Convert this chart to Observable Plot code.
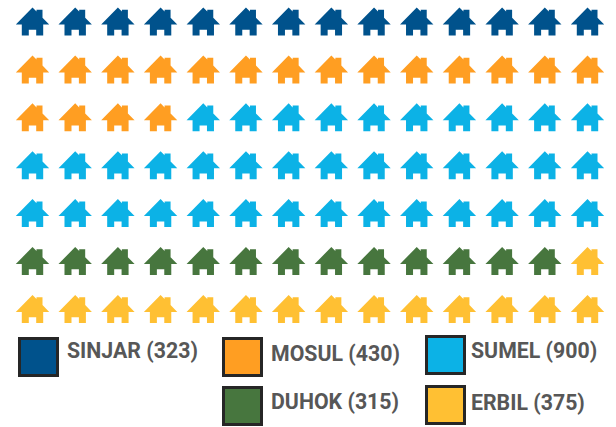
<!DOCTYPE html>
<html>
<head>
<meta charset="utf-8">
<script src="https://cdn.jsdelivr.net/npm/d3@7"></script>
<script src="https://cdn.jsdelivr.net/npm/@observablehq/plot@0.6"></script>
<style>
html,body{margin:0;padding:0;background:#fff}
#wrap{position:relative;width:616px;height:427px;overflow:hidden}
#wrap svg{position:absolute;left:0;top:0}
.sw{position:absolute;box-sizing:border-box;width:41px;height:40px;border:3px solid #262626}
.lb{position:absolute;font:700 21.3px Roboto,sans-serif;color:#575757;line-height:24px;white-space:nowrap}
</style>
</head>
<body>
<div id="wrap"></div>
<script>
const regions = ["SINJAR","MOSUL","SUMEL","DUHOK","ERBIL"];
const totals = [323,430,900,315,375];
const houses = [14,18,38,13,15];
const colors = ["#00528c","#ff9e22","#0cb2e6","#47763e","#ffc033"];
const columns = 14;

const swatchLeft = [18,222,425,222,425];
const swatchTop  = [337,337,335,386,385];
const labelLeft  = [67,271,471,271,471];
const labelTop   = [339,342,339,390,391];

const cells = regions.flatMap((r,i)=>d3.range(houses[i]).map(()=>r)).map((region,n)=>({
  region, col:n%columns, row:Math.floor(n/columns)
}));

const house = {
  draw(ctx,size){
    const k=Math.sqrt(size/Math.PI)/16;
    const p=[[0,-14],[4,-9.9],[4,-11.7],[10,-11.7],[10,-3.8],[16.7,3],[10.7,3],[10.7,14],[3.7,14],[3.7,8.3],[-3.7,8.3],[-3.7,14],[-10.7,14],[-10.7,3],[-16.7,3]];
    p.forEach(([x,y],i)=>i?ctx.lineTo(x*k,y*k):ctx.moveTo(x*k,y*k));
    ctx.closePath();
  }
};

const chart = Plot.plot({
  width:616,height:427,margin:0,
  x:{domain:[0,13],range:[32,587],axis:null},
  y:{domain:[0,6],range:[21,308.4],axis:null},
  color:{domain:regions,range:colors},
  marks:[Plot.dot(cells,{x:"col",y:"row",r:16,fill:"region",symbol:house,stroke:"none"})]
});
const wrap=document.getElementById("wrap");
wrap.appendChild(chart);
regions.forEach((r,i)=>{
  const s=document.createElement("div");
  s.className="sw";
  s.style.cssText=`left:${swatchLeft[i]}px;top:${swatchTop[i]}px;background:${colors[i]}`;
  wrap.appendChild(s);
  const l=document.createElement("div");
  l.className="lb";
  l.textContent=`${r} (${totals[i]})`;
  l.style.cssText=`left:${labelLeft[i]}px;top:${labelTop[i]}px`;
  wrap.appendChild(l);
});
</script>
</body>
</html>
